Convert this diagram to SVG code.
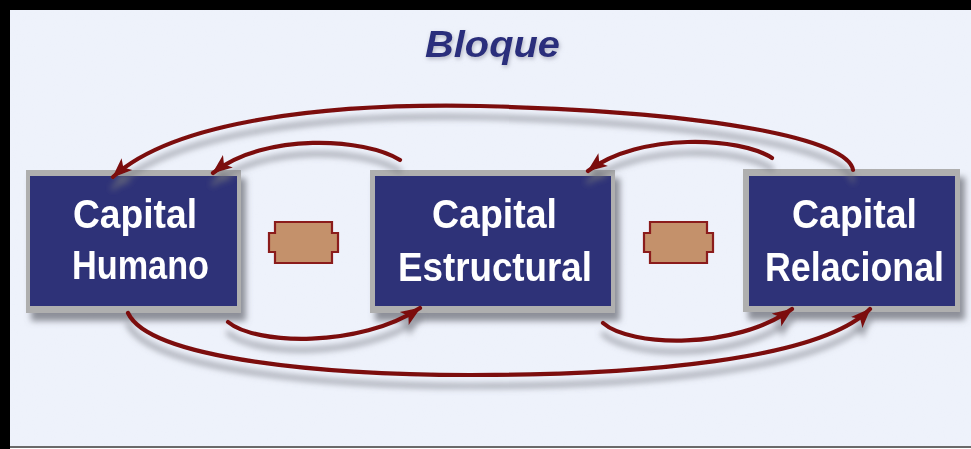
<svg xmlns="http://www.w3.org/2000/svg" width="971" height="449" viewBox="0 0 971 449">
  <defs>
    <style>
      .frame { fill: #000000; }
      .paper { fill: #eef2fb; }
      .edge { fill: #afafaf; }
      .face { fill: #2e3178; }
      .label { font-family: "Liberation Sans", Arial, sans-serif; font-weight: bold; font-size: 40px; fill: #ffffff; }
      .title { font-family: "Liberation Sans", Arial, sans-serif; font-weight: bold; font-style: italic; font-size: 37px; fill: #2b2f7c; }
      .link { fill: none; stroke: #7b1010; stroke-width: 4.2; stroke-linecap: round; marker-end: url(#head); }
      .joint { fill: #c4916b; stroke: #8b1c1c; stroke-width: 2.2; }
    </style>
    <marker id="head" markerUnits="userSpaceOnUse" markerWidth="22" markerHeight="18" refX="19" refY="9" orient="auto">
      <path d="M0,1 L20,9 L0,17 L5,9 z" fill="#7b1010"/>
    </marker>
    <filter id="soft" x="-10%" y="-20%" width="130%" height="150%">
      <feGaussianBlur in="SourceAlpha" stdDeviation="3"/>
      <feOffset dx="5" dy="8" result="b"/>
      <feFlood flood-color="#6d6f78" flood-opacity="0.75"/>
      <feComposite in2="b" operator="in" result="s"/>
      <feMerge><feMergeNode in="s"/><feMergeNode in="SourceGraphic"/></feMerge>
    </filter>
    <filter id="arcshadow" x="-10%" y="-30%" width="120%" height="180%">
      <feGaussianBlur in="SourceAlpha" stdDeviation="3"/>
      <feOffset dx="0" dy="11" result="b"/>
      <feFlood flood-color="#6f717a" flood-opacity="0.7"/>
      <feComposite in2="b" operator="in" result="s"/>
      <feMerge><feMergeNode in="s"/><feMergeNode in="SourceGraphic"/></feMerge>
    </filter>
    <filter id="halo" x="-20%" y="-40%" width="140%" height="180%">
      <feGaussianBlur in="SourceAlpha" stdDeviation="2"/>
      <feOffset dx="1" dy="2" result="b"/>
      <feFlood flood-color="#8a8ca0" flood-opacity="0.6"/>
      <feComposite in2="b" operator="in" result="s"/>
      <feMerge><feMergeNode in="s"/><feMergeNode in="SourceGraphic"/></feMerge>
    </filter>
    <filter id="grain" x="0" y="0" width="100%" height="100%">
      <feTurbulence type="fractalNoise" baseFrequency="0.9" numOctaves="1" seed="4" result="n"/>
      <feColorMatrix in="n" type="matrix" values="0 0 0 0 0.80  0 0 0 0 0.84  0 0 0 0 0.95  0 0 0 1.6 -0.9"/>
    </filter>
  </defs>

  <!-- page and frame -->
  <rect class="frame" x="0" y="0" width="971" height="449"/>
  <rect class="paper" x="10" y="10" width="961" height="436"/>
  <rect x="10" y="10" width="961" height="436" filter="url(#grain)" opacity="0.5"/>
  <rect x="10" y="446" width="961" height="2" fill="#6a6a6a"/>
  <rect x="10" y="448" width="961" height="1" fill="#ffffff"/>

  <!-- heading -->
  <g id="title" filter="url(#halo)">
    <text class="title" x="425" y="57" textLength="135" lengthAdjust="spacingAndGlyphs">Bloque</text>
  </g>

  <!-- nodes -->
  <g id="capital-humano" filter="url(#soft)">
    <rect class="edge" x="26" y="170" width="215" height="143"/>
    <rect class="face" x="30" y="176" width="207" height="130"/>
    <text class="label" x="73" y="228" textLength="124" lengthAdjust="spacingAndGlyphs">Capital</text>
    <text class="label" x="72" y="279" textLength="137" lengthAdjust="spacingAndGlyphs">Humano</text>
  </g>

  <g id="capital-estructural" filter="url(#soft)">
    <rect class="edge" x="370" y="170" width="245" height="143"/>
    <rect class="face" x="375" y="176" width="236" height="130"/>
    <text class="label" x="432" y="228" textLength="125" lengthAdjust="spacingAndGlyphs">Capital</text>
    <text class="label" x="398" y="281" textLength="194" lengthAdjust="spacingAndGlyphs">Estructural</text>
  </g>

  <g id="capital-relacional" filter="url(#soft)">
    <rect class="edge" x="743" y="169" width="217" height="143"/>
    <rect class="face" x="749" y="176" width="206" height="130"/>
    <text class="label" x="792" y="228" textLength="125" lengthAdjust="spacingAndGlyphs">Capital</text>
    <text class="label" x="765" y="281" textLength="179" lengthAdjust="spacingAndGlyphs">Relacional</text>
  </g>

  <!-- notched joints between nodes -->
  <g id="joint-1">
    <path class="joint" d="M275,222 H332 V233 H338 V252 H332 V263 H275 V252 H269 V233 H275 Z"/>
  </g>
  <g id="joint-2">
    <path class="joint" d="M650,222 H707 V233 H713 V252 H707 V263 H650 V252 H644 V233 H650 Z"/>
  </g>

  <!-- connectors -->
  <g id="connectors" filter="url(#arcshadow)">
    <path class="link" d="M853,170 C848,140 720,112 480,106 C330,103 175,120 113,177"/>
    <path class="link" d="M400,160 C365,138 265,132 213,173"/>
    <path class="link" d="M772,158 C740,137 640,132 588,171"/>
    <path class="link" d="M128,313 C150,360 330,375 470,375 C640,375 820,360 870,309"/>
    <path class="link" d="M228,322 C255,345 360,348 420,308"/>
    <path class="link" d="M603,323 C630,347 735,350 792,309"/>
  </g>
</svg>
